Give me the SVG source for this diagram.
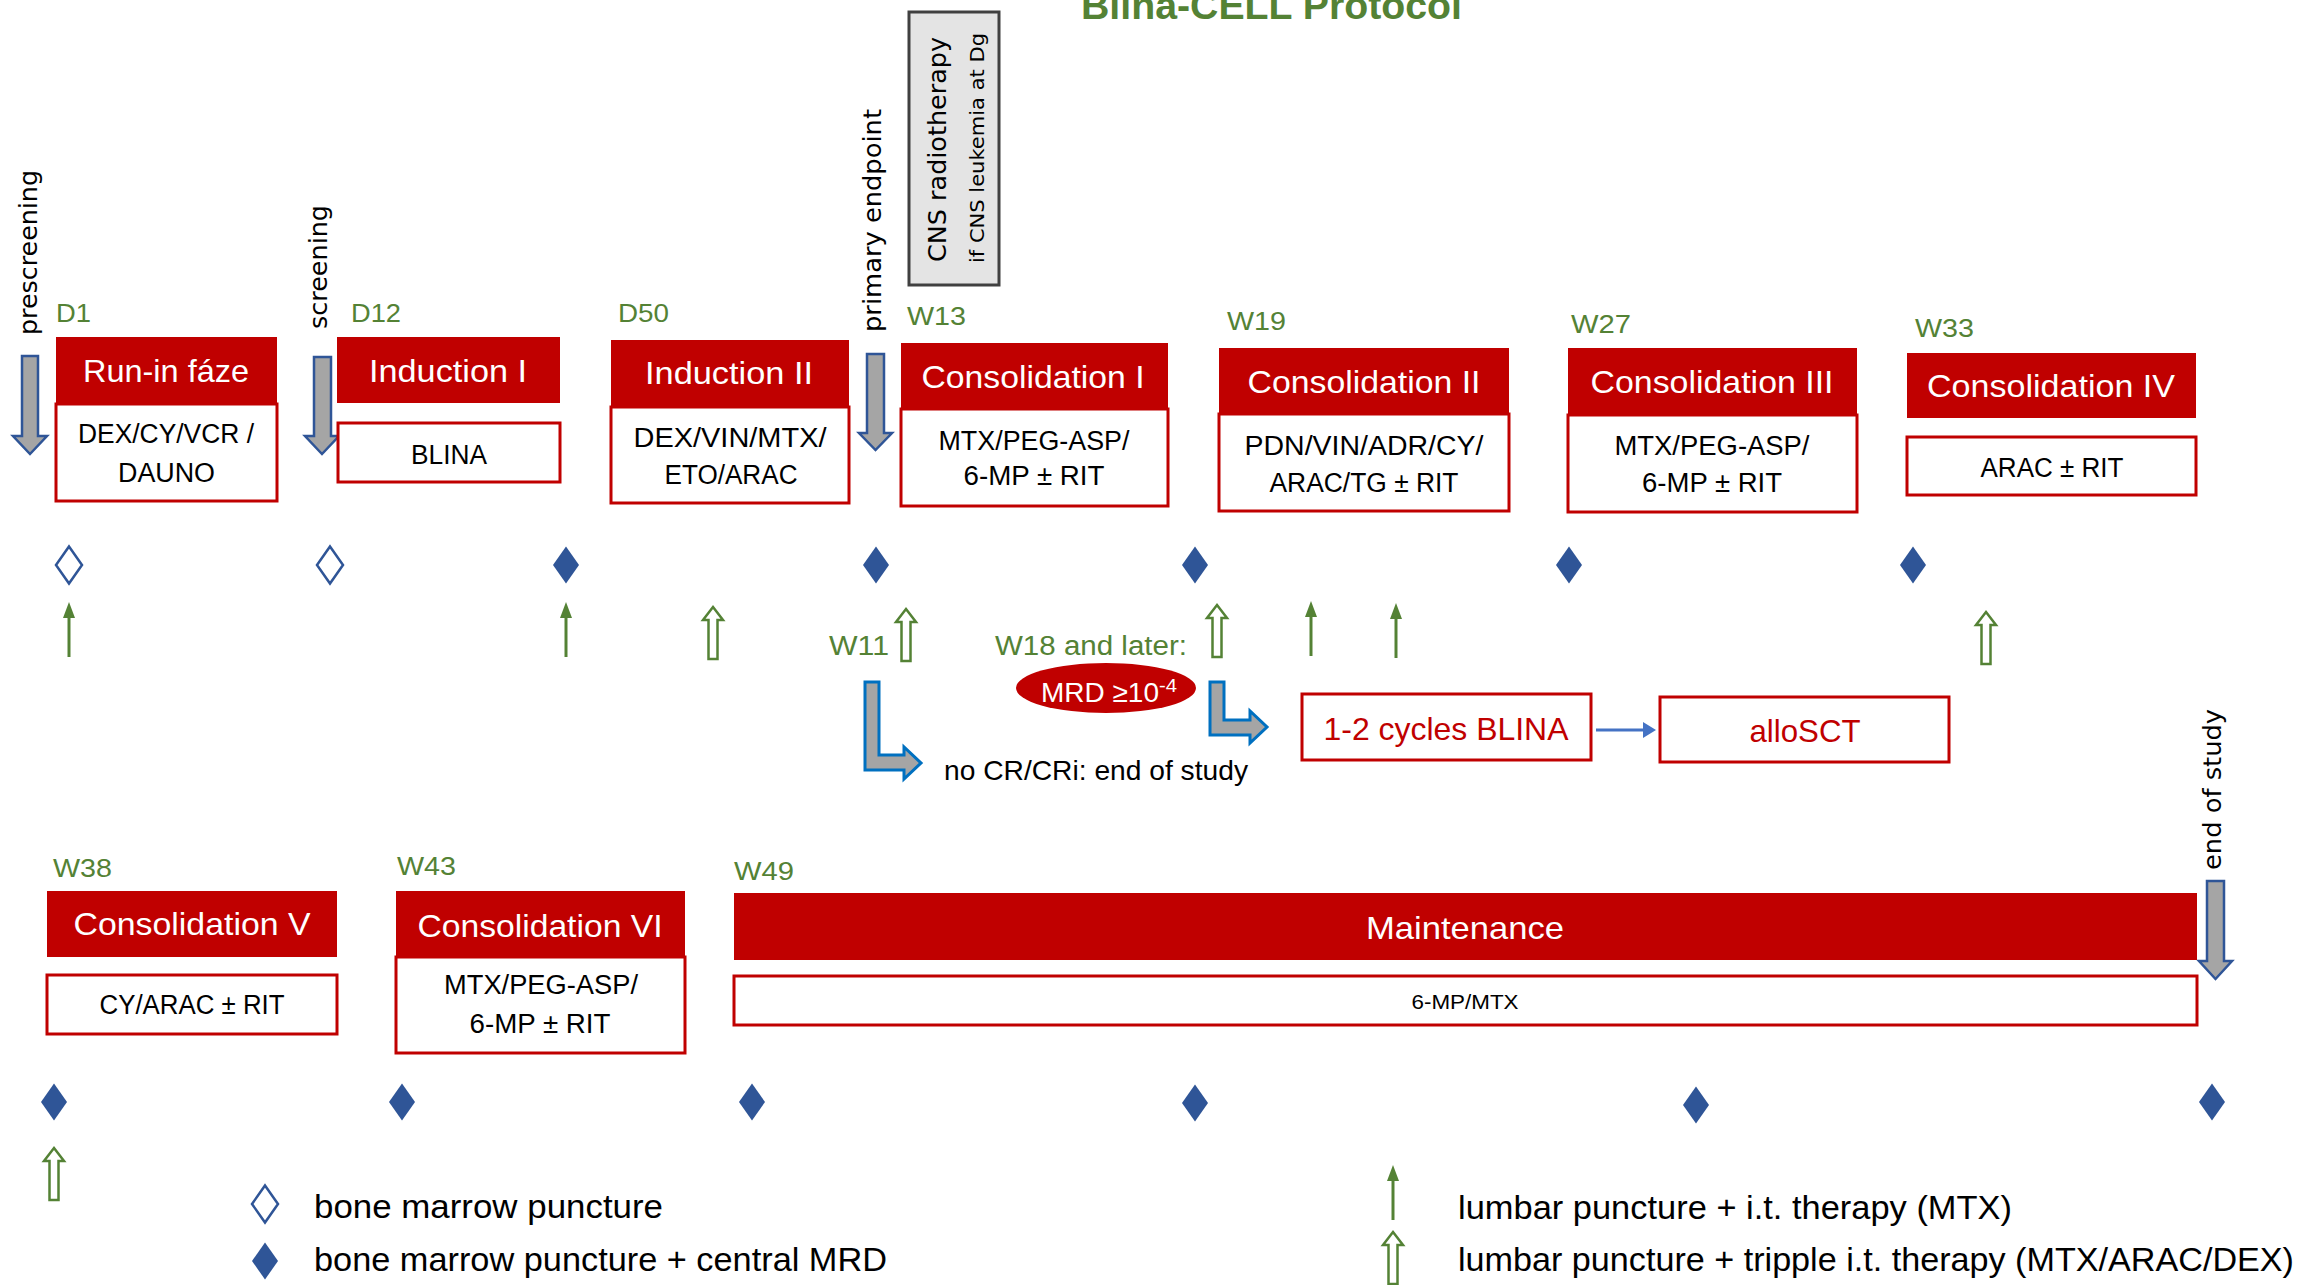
<svg xmlns="http://www.w3.org/2000/svg" xmlns:xlink="http://www.w3.org/1999/xlink" width="2300" height="1285" viewBox="0 0 2300 1285">
<style>
text{font-family:"Liberation Sans",Arial,sans-serif}
.hd{fill:#C00000}
.bd{fill:#fff;stroke:#C00000;stroke-width:3}
.ht{fill:#fff;font-size:32px;text-anchor:middle}
.bt{fill:#000;font-size:27px;text-anchor:middle}
.gl{fill:#548235;font-size:26px}
.vt{font-family:"DejaVu Sans",Verdana,sans-serif;fill:#000;font-size:25px}
.rt{fill:#C00000;font-size:32px;text-anchor:middle}
.lg{fill:#000;font-size:33px}
.blk{fill:#A5A5A5;stroke:#2F5597;stroke-width:2.5}
.bent{fill:#A5A5A5;stroke:#0070C0;stroke-width:3}
</style>
<defs>
<path id="dia" d="M0,-18.5 L13,0 L0,18.5 L-13,0 Z"/>
<g id="thin"><line x1="0" y1="14" x2="0" y2="55" stroke="#548235" stroke-width="3"/><polygon points="0,0 6,16 -6,16" fill="#548235"/></g>
<polygon id="hollow" points="0,0 10,13 4.5,13 4.5,52 -4.5,52 -4.5,13 -10,13" fill="#fff" stroke="#548235" stroke-width="2.5"/>
</defs>
<rect width="2300" height="1285" fill="#fff"/>

<text id="title" x="1081" y="19" textLength="381" lengthAdjust="spacingAndGlyphs" style="font-weight:bold;font-size:38px;fill:#548235">Blina-CELL Protocol</text>

<!-- milestones -->
<g id="prescreening">
<text class="vt" transform="translate(37,335) rotate(-90)" textLength="165" lengthAdjust="spacingAndGlyphs">prescreening</text>
<polygon class="blk" points="22,356 38,356 38,436 47,436 30,454 13,436 22,436"/>
</g>
<g id="screening">
<text class="vt" transform="translate(327,329) rotate(-90)" textLength="124" lengthAdjust="spacingAndGlyphs">screening</text>
<polygon class="blk" points="314,357 331,357 331,436 339,436 322,454 305,436 314,436"/>
</g>
<g id="primary-endpoint">
<text class="vt" transform="translate(881,332) rotate(-90)" textLength="223" lengthAdjust="spacingAndGlyphs">primary endpoint</text>
<polygon class="blk" points="867,354 884,354 884,433 892,433 875.5,450 859,433 867,433"/>
</g>
<g id="end-of-study">
<text class="vt" transform="translate(2221,870) rotate(-90)" textLength="161" lengthAdjust="spacingAndGlyphs">end of study</text>
<polygon class="blk" points="2207,881 2224,881 2224,961 2232,961 2215.5,979 2199,961 2207,961"/>
</g>
<g id="cns">
<rect x="909" y="12" width="90" height="273" fill="#E4E4E4" stroke="#404040" stroke-width="3"/>
<text class="vt" transform="translate(946,262) rotate(-90)" textLength="225" lengthAdjust="spacingAndGlyphs" style="font-size:24px">CNS radiotherapy</text>
<text class="vt" transform="translate(984,263) rotate(-90)" textLength="230" lengthAdjust="spacingAndGlyphs" style="font-size:19px">if CNS leukemia at Dg</text>
</g>

<!-- time labels -->
<g id="labels">
<text class="gl" x="56" y="322" textLength="35" lengthAdjust="spacingAndGlyphs">D1</text>
<text class="gl" x="351" y="322" textLength="50" lengthAdjust="spacingAndGlyphs">D12</text>
<text class="gl" x="618" y="322" textLength="51" lengthAdjust="spacingAndGlyphs">D50</text>
<text class="gl" x="907" y="325" textLength="59" lengthAdjust="spacingAndGlyphs">W13</text>
<text class="gl" x="1227" y="330" textLength="59" lengthAdjust="spacingAndGlyphs">W19</text>
<text class="gl" x="1571" y="333" textLength="60" lengthAdjust="spacingAndGlyphs">W27</text>
<text class="gl" x="1915" y="337" textLength="59" lengthAdjust="spacingAndGlyphs">W33</text>
<text class="gl" x="53" y="877" textLength="59" lengthAdjust="spacingAndGlyphs">W38</text>
<text class="gl" x="397" y="875" textLength="59" lengthAdjust="spacingAndGlyphs">W43</text>
<text class="gl" x="734" y="880" textLength="60" lengthAdjust="spacingAndGlyphs">W49</text>
<text class="gl" x="829" y="655" textLength="60" lengthAdjust="spacingAndGlyphs" style="font-size:27px">W11</text>
<text class="gl" x="995" y="655" textLength="192" lengthAdjust="spacingAndGlyphs" style="font-size:27px">W18 and later:</text>
</g>

<!-- phase nodes -->
<g id="run-in">
<rect class="bd" x="56" y="404" width="221" height="97"/>
<rect class="hd" x="56" y="337" width="221" height="67"/>
<text class="ht" x="166" y="382" textLength="166" lengthAdjust="spacingAndGlyphs">Run-in fáze</text>
<text class="bt" x="166" y="443" textLength="176" lengthAdjust="spacingAndGlyphs">DEX/CY/VCR /</text>
<text class="bt" x="166.5" y="482" textLength="97" lengthAdjust="spacingAndGlyphs">DAUNO</text>
</g>
<g id="induction-1">
<rect class="hd" x="337" y="337" width="223" height="66"/>
<rect class="bd" x="338" y="423" width="222" height="59"/>
<text class="ht" x="448" y="382" textLength="158" lengthAdjust="spacingAndGlyphs">Induction I</text>
<text class="bt" x="449" y="464" textLength="76" lengthAdjust="spacingAndGlyphs">BLINA</text>
</g>
<g id="induction-2">
<rect class="bd" x="611" y="407" width="238" height="96"/>
<rect class="hd" x="611" y="340" width="238" height="67"/>
<text class="ht" x="729" y="384" textLength="168" lengthAdjust="spacingAndGlyphs">Induction II</text>
<text class="bt" x="730" y="447" textLength="193" lengthAdjust="spacingAndGlyphs">DEX/VIN/MTX/</text>
<text class="bt" x="731" y="484" textLength="133" lengthAdjust="spacingAndGlyphs">ETO/ARAC</text>
</g>
<g id="consolidation-1">
<rect class="bd" x="901" y="409" width="267" height="97"/>
<rect class="hd" x="901" y="343" width="267" height="66"/>
<text class="ht" x="1033" y="388" textLength="223" lengthAdjust="spacingAndGlyphs">Consolidation I</text>
<text class="bt" x="1034" y="450" textLength="191" lengthAdjust="spacingAndGlyphs">MTX/PEG-ASP/</text>
<text class="bt" x="1034" y="485" textLength="141" lengthAdjust="spacingAndGlyphs">6-MP ± RIT</text>
</g>
<g id="consolidation-2">
<rect class="bd" x="1219" y="414" width="290" height="97"/>
<rect class="hd" x="1219" y="348" width="290" height="66"/>
<text class="ht" x="1364" y="393" textLength="233" lengthAdjust="spacingAndGlyphs">Consolidation II</text>
<text class="bt" x="1364" y="455" textLength="239" lengthAdjust="spacingAndGlyphs">PDN/VIN/ADR/CY/</text>
<text class="bt" x="1364" y="492" textLength="189" lengthAdjust="spacingAndGlyphs">ARAC/TG ± RIT</text>
</g>
<g id="consolidation-3">
<rect class="bd" x="1568" y="415" width="289" height="97"/>
<rect class="hd" x="1568" y="348" width="289" height="67"/>
<text class="ht" x="1712" y="393" textLength="243" lengthAdjust="spacingAndGlyphs">Consolidation III</text>
<text class="bt" x="1712" y="455" textLength="195" lengthAdjust="spacingAndGlyphs">MTX/PEG-ASP/</text>
<text class="bt" x="1712" y="492" textLength="140" lengthAdjust="spacingAndGlyphs">6-MP ± RIT</text>
</g>
<g id="consolidation-4">
<rect class="hd" x="1907" y="353" width="289" height="65"/>
<rect class="bd" x="1907" y="437" width="289" height="58"/>
<text class="ht" x="2051" y="397" textLength="248" lengthAdjust="spacingAndGlyphs">Consolidation IV</text>
<text class="bt" x="2052" y="477" textLength="143" lengthAdjust="spacingAndGlyphs">ARAC ± RIT</text>
</g>
<g id="consolidation-5">
<rect class="hd" x="47" y="891" width="290" height="66"/>
<rect class="bd" x="47" y="975" width="290" height="59"/>
<text class="ht" x="192" y="935" textLength="237" lengthAdjust="spacingAndGlyphs">Consolidation V</text>
<text class="bt" x="192" y="1014" textLength="185" lengthAdjust="spacingAndGlyphs">CY/ARAC ± RIT</text>
</g>
<g id="consolidation-6">
<rect class="bd" x="396" y="957" width="289" height="96"/>
<rect class="hd" x="396" y="891" width="289" height="66"/>
<text class="ht" x="540" y="937" textLength="245" lengthAdjust="spacingAndGlyphs">Consolidation VI</text>
<text class="bt" x="541" y="994" textLength="194" lengthAdjust="spacingAndGlyphs">MTX/PEG-ASP/</text>
<text class="bt" x="540" y="1033" textLength="141" lengthAdjust="spacingAndGlyphs">6-MP ± RIT</text>
</g>
<g id="maintenance">
<rect class="hd" x="734" y="893" width="1463" height="67"/>
<rect class="bd" x="734" y="976" width="1463" height="49"/>
<text class="ht" x="1465" y="939" textLength="198" lengthAdjust="spacingAndGlyphs">Maintenance</text>
<text class="bt" x="1465" y="1009" textLength="107" lengthAdjust="spacingAndGlyphs" style="font-size:21px">6-MP/MTX</text>
</g>
<g id="mrd">
<ellipse cx="1106" cy="688" rx="90" ry="25" fill="#C00000"/>
<text x="1041" y="702" textLength="118" lengthAdjust="spacingAndGlyphs" style="fill:#fff;font-size:28px">MRD ≥10</text>
<text x="1159" y="692" textLength="18" lengthAdjust="spacingAndGlyphs" style="fill:#fff;font-size:18px">-4</text>
</g>
<g id="blina-cycles">
<rect class="bd" x="1302" y="694" width="289" height="66"/>
<text class="rt" x="1446" y="740" textLength="245" lengthAdjust="spacingAndGlyphs">1-2 cycles BLINA</text>
</g>
<g id="allosct">
<rect class="bd" x="1660" y="697" width="289" height="65"/>
<text class="rt" x="1805" y="742" textLength="111" lengthAdjust="spacingAndGlyphs">alloSCT</text>
</g>
<g id="no-cr">
<text x="944" y="780" textLength="304" lengthAdjust="spacingAndGlyphs" style="font-size:28px;fill:#000">no CR/CRi: end of study</text>
</g>

<!-- connectors -->
<g id="connectors">
<polygon class="bent" points="865,682 879,682 879,755 904,755 904,747 921,763 904,779 904,770 865,770"/>
<polygon class="bent" points="1210,682 1224,682 1224,720 1250,720 1250,711 1267,727 1250,743 1250,735 1210,735"/>
<line x1="1596" y1="730" x2="1645" y2="730" stroke="#4472C4" stroke-width="3"/>
<polygon points="1643,722 1656,730 1643,738" fill="#4472C4"/>
</g>

<!-- bone marrow punctures -->
<g id="bm-punctures" fill="#2F5597">
<use xlink:href="#dia" x="69" y="565" fill="#fff" stroke="#2F5597" stroke-width="2.5"/>
<use xlink:href="#dia" x="330" y="565" fill="#fff" stroke="#2F5597" stroke-width="2.5"/>
<use xlink:href="#dia" x="566" y="565"/>
<use xlink:href="#dia" x="876" y="565"/>
<use xlink:href="#dia" x="1195" y="565"/>
<use xlink:href="#dia" x="1569" y="565"/>
<use xlink:href="#dia" x="1913" y="565"/>
<use xlink:href="#dia" x="54" y="1102"/>
<use xlink:href="#dia" x="402" y="1102"/>
<use xlink:href="#dia" x="752" y="1102"/>
<use xlink:href="#dia" x="1195" y="1103"/>
<use xlink:href="#dia" x="1696" y="1105"/>
<use xlink:href="#dia" x="2212" y="1102"/>
</g>

<!-- lumbar punctures -->
<g id="lumbar-punctures">
<use xlink:href="#thin" x="69" y="602"/>
<use xlink:href="#thin" x="566" y="602"/>
<use xlink:href="#thin" x="1311" y="601"/>
<use xlink:href="#thin" x="1396" y="603"/>
<use xlink:href="#hollow" x="713" y="607"/>
<use xlink:href="#hollow" x="906" y="609"/>
<use xlink:href="#hollow" x="1217" y="605"/>
<use xlink:href="#hollow" x="1986" y="612"/>
<use xlink:href="#hollow" x="54" y="1148"/>
</g>

<!-- legend -->
<g id="legend">
<use xlink:href="#dia" x="265" y="1204" fill="#fff" stroke="#2F5597" stroke-width="2.5"/>
<use xlink:href="#dia" x="265" y="1261" fill="#2F5597"/>
<text class="lg" x="314" y="1218" textLength="349" lengthAdjust="spacingAndGlyphs">bone marrow puncture</text>
<text class="lg" x="314" y="1271" textLength="573" lengthAdjust="spacingAndGlyphs">bone marrow puncture + central MRD</text>
<use xlink:href="#thin" x="1393" y="1165"/>
<use xlink:href="#hollow" x="1393" y="1232"/>
<text class="lg" x="1458" y="1219" textLength="554" lengthAdjust="spacingAndGlyphs">lumbar puncture + i.t. therapy (MTX)</text>
<text class="lg" x="1458" y="1271" textLength="836" lengthAdjust="spacingAndGlyphs">lumbar puncture + tripple i.t. therapy (MTX/ARAC/DEX)</text>
</g>
</svg>
